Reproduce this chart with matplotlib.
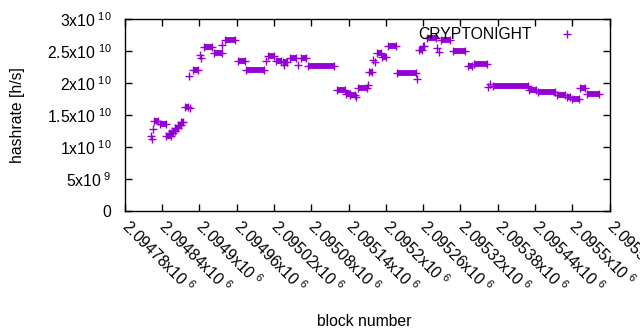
import matplotlib
matplotlib.use('Agg')
import matplotlib.pyplot as plt
from matplotlib.lines import Line2D

plt.rcParams['font.family'] = ['Liberation Sans', 'DejaVu Sans']
plt.rcParams['mathtext.fontset'] = 'custom'
plt.rcParams['mathtext.rm'] = 'Liberation Sans'
plt.rcParams['mathtext.it'] = 'Liberation Sans'
plt.rcParams['mathtext.bf'] = 'Liberation Sans'

# runs of blocks with the same hashrate: first block, last block, value (x1e10 h/s)
segStart = [2094827, 2094836, 2094847, 2094851, 2094856, 2094861, 2094866, 2094871,
            2094877, 2094889, 2094907, 2094924, 2094941, 2094962, 2094975, 2095010,
            2095023, 2095034, 2095045, 2095063, 2095075, 2095121, 2095136, 2095143,
            2095155, 2095173, 2095186, 2095194, 2095203, 2095218, 2095253, 2095259,
            2095267, 2095289, 2095308, 2095332, 2095342, 2095372, 2095430, 2095444,
            2095475, 2095491, 2095499, 2095513, 2095524]
segEnd = [2094834, 2094846, 2094855, 2094858, 2094860, 2094865, 2094870, 2094874,
          2094882, 2094898, 2094920, 2094936, 2094958, 2094973, 2095004, 2095020,
          2095031, 2095041, 2095056, 2095072, 2095117, 2095134, 2095143, 2095150,
          2095170, 2095178, 2095192, 2095200, 2095216, 2095248, 2095258, 2095261,
          2095280, 2095303, 2095327, 2095339, 2095363, 2095428, 2095441, 2095472,
          2095488, 2095496, 2095510, 2095520, 2095543]
segValue = [1.405, 1.355, 1.18, 1.215, 1.25, 1.30, 1.35, 1.39,
            1.63, 2.21, 2.57, 2.47, 2.67, 2.35, 2.21, 2.43,
            2.35, 2.33, 2.39, 2.39, 2.27, 1.89, 1.835, 1.81,
            1.925, 2.175, 2.47, 2.41, 2.58, 2.16, 2.525, 2.58,
            2.71, 2.67, 2.50, 2.265, 2.30, 1.95, 1.89, 1.87,
            1.823, 1.79, 1.75, 1.925, 1.826]

# single blocks standing apart from the runs
ptBlock = [2094822, 2094823, 2094826, 2094883, 2094885, 2094901, 2094903, 2094937,
           2095007, 2095036, 2095058, 2095152, 2095171, 2095179, 2095182, 2095250,
           2095283, 2095286, 2095365, 2095368]
ptValue = [1.17, 1.13, 1.29, 2.11, 1.61, 2.44, 2.40, 2.60,
           2.34, 2.29, 2.28, 1.78, 1.97, 2.37, 2.33, 2.06,
           2.545, 2.49, 1.94, 1.98]

xTicks = [2094780 + 60 * i for i in range(14)]
xTickLabels = ['2.09478', '2.09484', '2.0949', '2.09496', '2.09502', '2.09508', '2.09514',
               '2.0952', '2.09526', '2.09532', '2.09538', '2.09544', '2.0955', '2.09556']
yTicks = [0, 0.5e10, 1e10, 1.5e10, 2e10, 2.5e10, 3e10]
yTickLabels = ['0', r'5x10$\;^{9}$', r'1x10$\;^{10}$', r'1.5x10$\;^{10}$', r'2x10$\;^{10}$',
               r'2.5x10$\;^{10}$', r'3x10$\;^{10}$']

color = '#9400d3'
fs = 11.3

fig = plt.figure(figsize=(6.4, 3.3), dpi=100)
ax = fig.add_axes([0.195, 0.3606, 0.7575, 0.5809])

scale = 1e10
ax.hlines([v * scale for v in segValue], segStart, segEnd, color=color, lw=4.2,
          capstyle='butt')
ax.plot(segStart + segEnd, [v * scale for v in segValue + segValue], ls='none',
        marker='+', ms=6, mew=1, color=color)
ax.plot(ptBlock, [v * scale for v in ptValue], ls='none', marker='+', ms=6, mew=1,
        color=color)

ax.set_xlim(xTicks[0], xTicks[-1])
ax.set_ylim(0, 3e10)
ax.set_xticks(xTicks)
ax.set_xticklabels([t + r'x10$\;^{6}$' for t in xTickLabels], rotation=-45, ha='left',
                   va='center', rotation_mode='anchor', fontsize=fs)
ax.set_yticks(yTicks)
ax.set_yticklabels(yTickLabels, fontsize=fs)
ax.tick_params(direction='in', length=5, width=1, top=True, right=True)
ax.tick_params(axis='y', pad=9.5)
ax.tick_params(axis='x', pad=9)
for s in ax.spines.values():
    s.set_linewidth(1)

ax.set_xlabel('block number', fontsize=fs)
ax.set_ylabel('hashrate [h/s]', fontsize=fs)
ax.xaxis.set_label_coords(0.493, -0.537)
ax.yaxis.set_label_coords(-0.205, 0.5)

handle = Line2D([], [], ls='none', marker='+', ms=6, mew=1, color=color)
ax.legend([handle], ['CRYPTONIGHT'], loc='upper right', markerfirst=False,
          frameon=False, fontsize=fs, handlelength=4.4, handletextpad=0.05,
          borderaxespad=0.1)

fig.savefig('out.png', dpi=100)
